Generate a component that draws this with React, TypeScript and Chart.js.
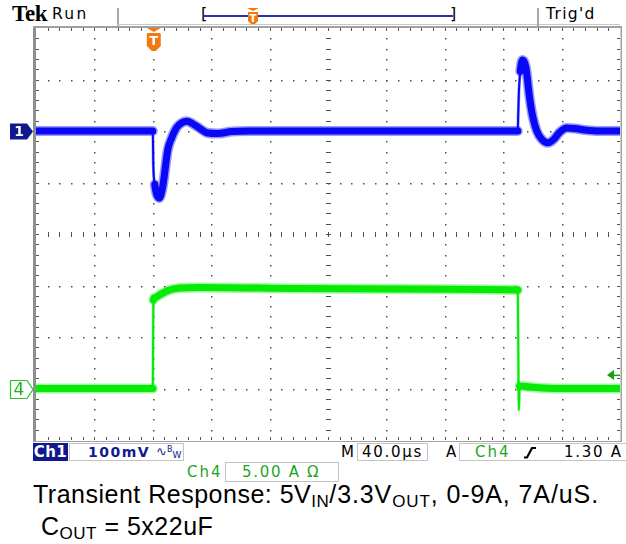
import React, { useEffect, useRef } from "react";
import { Chart, registerables } from "chart.js";

Chart.register(...registerables);

// Horizontal: 40 µs/div over 10 divisions, trigger at t = 0 (2 div from the left edge)
const timeMin = -80;
const timeMax = 320;
const timePerDiv = 40;

// Ch1: output voltage deviation, 100 mV/div, ground 2 div above centre
const ch1Min = -600;
const ch1Max = 200;
const ch1Time = [
  -80, 0, 0.34, 1.37, 2.7, 4.5, 6.8, 10.3, 13, 16.4, 19.9, 23.3, 27.4, 32.2, 37.7, 44.5, 54, 66,
  250, 250.3, 250.7, 251.7, 253.4, 255.5, 258.2, 260.3, 263, 266.4, 270.5, 274.7, 278.8, 283.6,
  289, 296, 306, 320,
];
const ch1MilliVolts = [
  0, 0, -65, -104, -123, -130, -108, -36, -13, 7, 16, 19, 14, 5, -4, -5, -1, 0,
  0, 33, 72, 116, 138, 124, 62, 27, 0, -16, -23, -16, -2, 6,
  5, 2, 0, 0,
];

// Ch4: load current, 5 A/div, ground 3 div below centre
const ch4Min = -5;
const ch4Max = 35;
const ch4Time = [
  -80, 0, 0.2, 0.4, 1.4, 4.8, 10.3, 18.5, 32, 100, 169, 250, 250.5, 250.8, 251.2, 258, 279, 320,
];
const ch4Amps = [
  0, 0, 4.7, 8.6, 8.8, 9.1, 9.5, 9.75, 9.8, 9.7, 9.66, 9.56, 0, -2.1, 0.25, 0.15, 0, 0,
];
const triggerLevelAmps = 1.3;

// Readout text
const ch1Readout = "100mV";
const timebaseReadout = "40.0µs";
const ch4Readout = "5.00 A";
const triggerReadout = "1.30 A";

const SCOPE_FONT = '"DejaVu Sans", sans-serif';
const CAPTION_FONT = '"Liberation Sans", Arial, sans-serif';
const NAVY = "#12198f";
const GREEN_TEXT = "#1fa51f";
const ORANGE = "#f07a12";

// fast edges are drawn as a thin stroke, slow parts as a wide persistence band
const segWidth = (thin: number, thick: number) => (c: any) => {
  const dx = Math.abs(c.p1.x - c.p0.x);
  const dy = Math.abs(c.p1.y - c.p0.y);
  return dy / Math.max(dx, 0.01) > 12 ? thin : thick;
};

function drawFlag(ctx: CanvasRenderingContext2D, cx: number, top: number, w: number, h: number) {
  ctx.fillStyle = ORANGE;
  ctx.beginPath();
  ctx.moveTo(cx - w / 2, top);
  ctx.lineTo(cx + w / 2, top);
  ctx.lineTo(cx, top + 4);
  ctx.closePath();
  ctx.fill();
  const st = top + 5;
  ctx.beginPath();
  ctx.moveTo(cx - w / 2 + 1, st);
  ctx.lineTo(cx + w / 2 - 1, st);
  ctx.lineTo(cx + w / 2, st + 1);
  ctx.lineTo(cx + w / 2, st + h - 5);
  ctx.lineTo(cx + 2, st + h);
  ctx.lineTo(cx - 2, st + h);
  ctx.lineTo(cx - w / 2, st + h - 5);
  ctx.lineTo(cx - w / 2, st + 1);
  ctx.closePath();
  ctx.fill();
  ctx.fillStyle = "#ffffff";
  ctx.font = `bold 13px ${SCOPE_FONT}`;
  ctx.textAlign = "center";
  ctx.textBaseline = "middle";
  ctx.fillText("T", cx, st + h / 2);
}

const scopeFrame = {
  id: "scopeFrame",
  beforeDatasetsDraw(chart: any) {
    const { ctx, chartArea: a, scales } = chart;
    const xs = scales.x;
    const ys = scales.y1;
    const vLines: number[] = [];
    for (let t = timeMin; t <= timeMax + 1e-6; t += timePerDiv) vLines.push(xs.getPixelForValue(t));
    const hLines: number[] = [];
    for (let v = ch1Min; v <= ch1Max + 1e-6; v += 100) hLines.push(ys.getPixelForValue(v));
    const minorX = (a.right - a.left) / 50;
    const minorY = (a.bottom - a.top) / 40;

    ctx.save();
    // dotted graticule
    ctx.fillStyle = "#4d4d4d";
    for (let i = 1; i < vLines.length - 1; i++) {
      const x = Math.round(vLines[i]);
      for (let k = 1; k < 40; k++) {
        const y = Math.round(a.top + k * minorY);
        if (i === 5) ctx.fillRect(x - 2, y, 5, 1);
        else ctx.fillRect(x, y, 1.5, 1.5);
      }
    }
    for (let j = 1; j < hLines.length - 1; j++) {
      const y = Math.round(hLines[j]);
      for (let k = 1; k < 50; k++) {
        const x = Math.round(a.left + k * minorX);
        if (j === 4) ctx.fillRect(x, y - 2, 1, 5);
        else ctx.fillRect(x, y, 1.5, 1.5);
      }
    }
    // frame
    ctx.fillStyle = "#8f8f8f";
    ctx.fillRect(a.left - 3, a.top - 1, 3, a.bottom - a.top + 3);
    ctx.fillStyle = "#a0a0a0";
    ctx.fillRect(a.left - 3, a.top - 2, a.right - a.left + 5, 2);
    ctx.fillRect(a.left - 3, a.bottom + 1, a.right - a.left + 5, 1.5);
    ctx.fillRect(a.right + 0.5, a.top - 1, 1.5, a.bottom - a.top + 3);
    // ruler ticks on the frame
    ctx.fillStyle = "#555555";
    for (let k = 1; k < 50; k++) {
      const x = Math.round(a.left + k * minorX);
      ctx.fillRect(x, a.top, 1, 3);
      ctx.fillRect(x, a.bottom - 3, 1, 3);
    }
    for (let k = 1; k < 40; k++) {
      const y = Math.round(a.top + k * minorY);
      ctx.fillRect(a.left, y, 3, 1);
      ctx.fillRect(a.right - 3, y, 3, 1);
    }
    ctx.restore();
  },
  afterDraw(chart: any) {
    const { ctx, chartArea: a, scales } = chart;
    ctx.save();
    // Ch1 ground marker
    const g1 = Math.round(scales.y1.getPixelForValue(0)) + 0.5;
    ctx.fillStyle = NAVY;
    ctx.beginPath();
    ctx.moveTo(10, g1 - 8);
    ctx.lineTo(27, g1 - 8);
    ctx.lineTo(33, g1);
    ctx.lineTo(27, g1 + 8);
    ctx.lineTo(10, g1 + 8);
    ctx.closePath();
    ctx.fill();
    ctx.fillStyle = "#ffffff";
    ctx.font = `bold 14px ${SCOPE_FONT}`;
    ctx.textAlign = "center";
    ctx.textBaseline = "middle";
    ctx.fillText("1", 19, g1 + 1);

    // Ch4 ground marker
    const g4 = Math.round(scales.y4.getPixelForValue(0)) + 0.5;
    ctx.strokeStyle = "#2cc02c";
    ctx.lineWidth = 1.2;
    ctx.fillStyle = "#ffffff";
    ctx.beginPath();
    ctx.moveTo(10.5, g4 - 9);
    ctx.lineTo(27, g4 - 9);
    ctx.lineTo(33, g4);
    ctx.lineTo(27, g4 + 9);
    ctx.lineTo(10.5, g4 + 9);
    ctx.closePath();
    ctx.fill();
    ctx.stroke();
    ctx.fillStyle = "#22b022";
    ctx.font = `17px ${SCOPE_FONT}`;
    ctx.fillText("4", 19, g4 + 1);

    // trigger position flag
    const tx = scales.x.getPixelForValue(0) + 1;
    drawFlag(ctx, tx, a.top, 14, 18);

    // trigger level arrow
    const ty = scales.y4.getPixelForValue(triggerLevelAmps);
    ctx.fillStyle = "#16a016";
    ctx.beginPath();
    ctx.moveTo(a.right - 13, ty);
    ctx.lineTo(a.right - 6, ty - 5);
    ctx.lineTo(a.right - 6, ty + 5);
    ctx.closePath();
    ctx.fill();
    ctx.fillRect(a.right - 6, ty - 0.5, 6, 1.5);
    ctx.restore();
  },
};

function ScopeChart() {
  const ref = useRef<HTMLCanvasElement | null>(null);
  useEffect(() => {
    if (!ref.current) return;
    const ch1Points = ch1Time.map((t, i) => ({ x: t, y: ch1MilliVolts[i] }));
    const ch4Points = ch4Time.map((t, i) => ({ x: t, y: ch4Amps[i] }));
    const common = {
      pointRadius: 0,
      cubicInterpolationMode: "monotone" as const,
      borderCapStyle: "round" as const,
      borderJoinStyle: "round" as const,
      fill: false,
    };
    const chart = new Chart(ref.current, {
      type: "line",
      data: {
        datasets: [
          {
            ...common,
            label: "Ch1",
            data: ch1Points,
            yAxisID: "y1",
            borderColor: "#0808f6",
            borderWidth: 7,
            segment: { borderWidth: segWidth(2, 7) },
            order: 1,
          },
          {
            ...common,
            label: "Ch1 envelope",
            data: ch1Points,
            yAxisID: "y1",
            borderColor: "rgba(30,30,250,0.45)",
            borderWidth: 10,
            segment: { borderWidth: segWidth(3, 10) },
            order: 2,
          },
          {
            ...common,
            label: "Ch4",
            data: ch4Points,
            yAxisID: "y4",
            borderColor: "#06ea06",
            borderWidth: 7,
            segment: { borderWidth: segWidth(2, 7) },
            order: 1,
          },
          {
            ...common,
            label: "Ch4 envelope",
            data: ch4Points,
            yAxisID: "y4",
            borderColor: "rgba(40,240,40,0.45)",
            borderWidth: 10,
            segment: { borderWidth: segWidth(3, 10) },
            order: 2,
          },
        ],
      },
      options: {
        animation: false,
        responsive: false,
        events: [],
        layout: { padding: { left: 36, top: 28, right: 6, bottom: 2 } },
        plugins: { legend: { display: false }, tooltip: { enabled: false } },
        scales: {
          x: { type: "linear", min: timeMin, max: timeMax, display: false },
          y1: { type: "linear", min: ch1Min, max: ch1Max, display: false },
          y4: { type: "linear", min: ch4Min, max: ch4Max, display: false },
        },
      },
      plugins: [scopeFrame],
    });
    return () => chart.destroy();
  }, []);
  return (
    <canvas
      ref={ref}
      width={626}
      height={442}
      style={{ position: "absolute", left: 0, top: 0 }}
    />
  );
}

const abs = (left: number, top: number, extra: React.CSSProperties = {}): React.CSSProperties => ({
  position: "absolute",
  left,
  top,
  whiteSpace: "nowrap",
  ...extra,
});

const readoutFont: React.CSSProperties = {
  fontFamily: SCOPE_FONT,
  fontSize: 15,
  lineHeight: "18px",
  letterSpacing: 1.7,
};

const box = (left: number, top: number, width: number, height: number): React.CSSProperties => ({
  position: "absolute",
  left,
  top,
  width,
  height,
  boxSizing: "border-box",
  border: "1px solid #c4c4c4",
});

export default function App() {
  const sub: React.CSSProperties = { fontSize: 17, position: "relative", top: 4 };
  const captionLine: React.CSSProperties = {
    fontFamily: CAPTION_FONT,
    fontSize: 25,
    lineHeight: "25px",
    letterSpacing: 0.5,
    color: "#000",
  };
  return (
    <div
      style={{
        position: "absolute",
        left: 0,
        top: 0,
        width: 626,
        height: 544,
        background: "#ffffff",
        overflow: "hidden",
      }}
    >
      {/* header */}
      <div style={abs(12, 1, { fontFamily: '"Liberation Serif", serif', fontWeight: 700, fontSize: 23, lineHeight: "26px", letterSpacing: -0.3 })}>
        Tek
      </div>
      <div style={abs(52, 3, { fontFamily: SCOPE_FONT, fontSize: 15.5, lineHeight: "22px", letterSpacing: 2.3 })}>Run</div>
      <div style={abs(117, 8, { width: 1.5, height: 18, background: "#a8a8a8" })} />
      <div style={abs(117, 24, { width: 503, height: 1, background: "#c8c8c8" })} />
      <div style={abs(201, 4, { fontFamily: SCOPE_FONT, fontSize: 16, lineHeight: "20px" })}>[</div>
      <div style={abs(204, 15, { width: 249, height: 1.5, background: "#2b2bbf" })} />
      <div style={abs(450, 4, { fontFamily: SCOPE_FONT, fontSize: 16, lineHeight: "20px" })}>]</div>
      <svg style={abs(247, 8)} width={12} height={17} viewBox="0 0 12 17">
        <polygon points="0,0 12,0 6,3" fill={ORANGE} />
        <polygon points="1,4 11,4 11,13 8,16 4,16 1,13" fill={ORANGE} />
        <text x={6} y={13.5} fill="#fff" fontSize={10} fontWeight={700} textAnchor="middle" fontFamily="DejaVu Sans">
          T
        </text>
      </svg>
      <div style={abs(537, 8, { width: 1.5, height: 18, background: "#a8a8a8" })} />
      <div style={abs(546, 3, { fontFamily: SCOPE_FONT, fontSize: 15.5, lineHeight: "22px", letterSpacing: 1.3 })}>
        Trig'd
      </div>

      <ScopeChart />

      {/* readout row 1 */}
      <div style={abs(33, 443, { width: 35, height: 18, background: NAVY, color: "#fff", ...readoutFont, fontWeight: 700, letterSpacing: 0.5, textAlign: "center" })}>
        Ch1
      </div>
      <div style={box(69, 443, 115, 18)} />
      <div style={abs(88, 443, { ...readoutFont, color: NAVY, fontWeight: 700, fontSize: 14, letterSpacing: 1.5 })}>
        {ch1Readout}
      </div>
      <div style={abs(156, 443, { fontFamily: SCOPE_FONT, color: NAVY, fontSize: 13, lineHeight: "18px" })}>
        ∿<span style={{ fontSize: 8, position: "relative", top: -4 }}>B</span>
        <span style={{ fontSize: 9, position: "relative", top: 2 }}>W</span>
      </div>
      <div style={abs(341, 443, { ...readoutFont, letterSpacing: 0 })}>M</div>
      <div style={box(357, 443, 71, 18)} />
      <div style={abs(362, 443, readoutFont)}>{timebaseReadout}</div>
      <div style={abs(446, 443, { ...readoutFont, letterSpacing: 0 })}>A</div>
      <div style={box(459, 443, 180, 18)} />
      <div style={abs(475, 443, { ...readoutFont, color: GREEN_TEXT, letterSpacing: 2 })}>Ch4</div>
      <svg style={abs(523, 446)} width={15} height={13} viewBox="0 0 15 13">
        <path d="M1,11.5 L4,11.5 L9,2 L13,2" stroke="#000" strokeWidth={2.2} fill="none" />
      </svg>
      <div style={abs(564, 443, readoutFont)}>{triggerReadout}</div>

      {/* readout row 2 */}
      <div style={abs(187, 463, { ...readoutFont, color: GREEN_TEXT, letterSpacing: 2 })}>Ch4</div>
      <div style={box(225, 462, 114, 20)} />
      <div style={abs(242, 463, { ...readoutFont, color: GREEN_TEXT })}>{ch4Readout} Ω</div>

      {/* caption */}
      <div style={abs(33, 482, captionLine)}>
        Transient Response: 5V<span style={sub}>IN</span>
        <span style={{ letterSpacing: 0.9 }}>
          /3.3V<span style={sub}>OUT</span>, 0-9A, 7A/uS.
        </span>
      </div>
      <div style={abs(41, 514, captionLine)}>
        C<span style={sub}>OUT</span> = 5x22uF
      </div>
    </div>
  );
}
